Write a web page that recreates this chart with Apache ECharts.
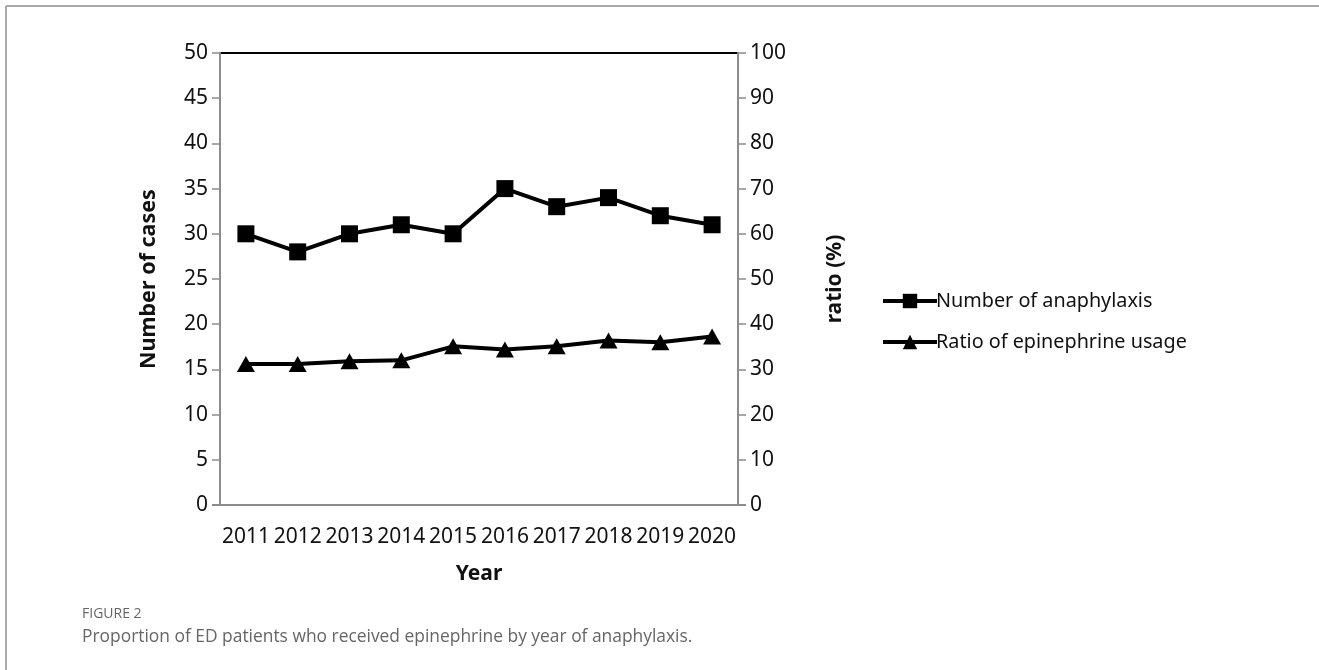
<!DOCTYPE html>
<html>
<head>
<meta charset="utf-8">
<script src="https://cdn.jsdelivr.net/npm/echarts@6/dist/echarts.min.js"></script>
<style>
html,body{margin:0;padding:0;background:#fff;}
#chart{width:1319px;height:670px;}
</style>
</head>
<body>
<div id="chart"></div>
<script>
const years = ['2011','2012','2013','2014','2015','2016','2017','2018','2019','2020'];
const anaphylaxisCases = [30, 28, 30, 31, 30, 35, 33, 34, 32, 31];
const epinephrineRatio = [31.2, 31.2, 31.8, 32.0, 35.1, 34.4, 35.1, 36.4, 36.0, 37.3];
const leftTicks = {min: 0, max: 50, interval: 5};
const rightTicks = {min: 0, max: 100, interval: 10};

const chart = echarts.init(document.getElementById('chart'));
const font = '"Noto Sans", "Open Sans", sans-serif';
const axisGray = '#8c8c8c';
chart.setOption({
  animation: false,
  grid: {left: 220, right: 581, top: 53, bottom: 165},
  title: [
    {text: 'FIGURE 2', left: 77, top: 602,
     textStyle: {fontFamily: '"Open Sans", sans-serif', fontSize: 14, fontWeight: 'normal', color: '#666'}},
    {text: 'Proportion of ED patients who received epinephrine by year of anaphylaxis.', left: 77, top: 624,
     textStyle: {fontFamily: '"Open Sans", sans-serif', fontSize: 17.4, fontWeight: 'normal', color: '#666'}}
  ],
  legend: {
    orient: 'vertical', left: 876, top: 286, itemGap: 21,
    itemWidth: 54, itemHeight: 18,
    lineStyle: {width: 4, color: '#000'},
    textStyle: {fontFamily: font, fontSize: 19.8, color: '#111', padding: [0,0,0,-6]},
    data: ['Number of anaphylaxis', 'Ratio of epinephrine usage']
  },
  xAxis: {
    type: 'category', data: years, boundaryGap: true,
    name: 'Year', nameLocation: 'middle', nameGap: 59,
    nameTextStyle: {fontFamily: font, fontSize: 21, fontWeight: 'bold', color: '#111'},
    axisLine: {show: false},
    axisTick: {show: false},
    axisLabel: {fontFamily: font, fontSize: 21, color: '#111', margin: 22, interval: 0}
  },
  yAxis: [
    {type: 'value', min: leftTicks.min, max: leftTicks.max, interval: leftTicks.interval, position: 'left',
     name: 'Number of cases', nameLocation: 'middle', nameGap: 60, nameRotate: 90,
     nameTextStyle: {fontFamily: font, fontSize: 21.5, fontWeight: 'bold', color: '#111'},
     axisLine: {show: true, lineStyle: {color: axisGray, width: 2}},
     axisTick: {show: true, length: 8, lineStyle: {color: axisGray, width: 1.5}},
     axisLabel: {fontFamily: font, fontSize: 21, color: '#111', margin: 12},
     splitLine: {show: false}},
    {type: 'value', min: rightTicks.min, max: rightTicks.max, interval: rightTicks.interval, position: 'right',
     name: 'ratio (%)', nameLocation: 'middle', nameGap: 87, nameRotate: 90,
     nameTextStyle: {fontFamily: font, fontSize: 21, fontWeight: 'bold', color: '#111'},
     axisLine: {show: true, lineStyle: {color: axisGray, width: 2}},
     axisTick: {show: true, length: 8, lineStyle: {color: axisGray, width: 1.5}},
     axisLabel: {fontFamily: font, fontSize: 21, color: '#111', margin: 12},
     splitLine: {show: false}},
  ],
  series: [
    {name: 'Number of anaphylaxis', type: 'line', yAxisIndex: 0, data: anaphylaxisCases,
     symbol: 'rect', symbolSize: 17, lineStyle: {color: '#000', width: 4}, itemStyle: {color: '#000'}},
    {name: 'Ratio of epinephrine usage', type: 'line', yAxisIndex: 1, data: epinephrineRatio,
     symbol: 'triangle', symbolSize: [18, 16], lineStyle: {color: '#000', width: 4}, itemStyle: {color: '#000'}}
  ],
  graphic: [
    {type: 'line', shape: {x1: 6, y1: 6, x2: 1319, y2: 6}, style: {stroke: '#aaa', lineWidth: 2}},
    {type: 'line', shape: {x1: 6, y1: 6, x2: 6, y2: 670}, style: {stroke: '#aaa', lineWidth: 2}},
    {type: 'line', shape: {x1: 220, y1: 53, x2: 738, y2: 53}, style: {stroke: '#000', lineWidth: 2}},
    {type: 'line', shape: {x1: 212, y1: 505, x2: 746, y2: 505}, style: {stroke: axisGray, lineWidth: 2}}
  ]
});
</script>
</body>
</html>
